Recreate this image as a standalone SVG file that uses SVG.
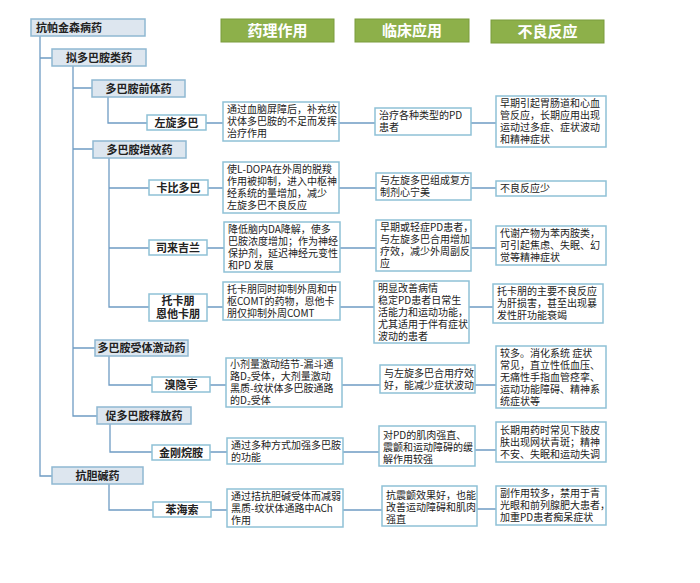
<svg xmlns="http://www.w3.org/2000/svg" width="700" height="583" viewBox="0 0 700 583">
<style>
text{font-family:"Noto Sans CJK SC","Liberation Sans",sans-serif;fill:#222}
.h rect{fill:#8db04a;stroke:#7a9c3c;stroke-width:1}
.h text{fill:#fff;font-size:15px;font-weight:bold;text-anchor:middle}
.c rect{fill:#dde6ef;stroke:#8fb8d2;stroke-width:1.5}
.c text{font-size:11px;font-weight:bold;text-anchor:middle}
.b rect{fill:#fff;stroke:#8fc1d6;stroke-width:1.5}
.b text{font-size:10px}
.l rect{fill:#fff;stroke:#8fc1d6;stroke-width:1.5}
.l text{font-size:11px;font-weight:bold;text-anchor:middle}
#connectors path{fill:none;stroke:#6f9cc4;stroke-width:1.3}
</style>
<rect width="700" height="583" fill="#fff"/>
<g id="connectors">
<path d="M40 36V476H52M40 58H52"/>
<path d="M73 66V416H97M73 88H92M73 149H93M73 348H95"/>
<path d="M108 97V123H147"/>
<path d="M109 158V307H149M109 188H149M109 248H149"/>
<path d="M109 356V385H152"/>
<path d="M110 424V452H152"/>
<path d="M109 484V510H153"/>
<path d="M206 123H223M339 123H375M471 123H496"/>
<path d="M208 188H223M339 188H376M471 188H496"/>
<path d="M207 248H224M340 248H376M471 248H496"/>
<path d="M207 307H223M340 307H374M469 307H493"/>
<path d="M210 385H226M342 385H380M475 385H496"/>
<path d="M210 452H227M343 452H379M475 450H496"/>
<path d="M211 510H227M343 510H382M477 509H496"/>
</g>
<g id="h1" class="h"><rect x="221" y="19" width="113" height="23"/><text x="277.5" y="36">药理作用</text></g>
<g id="h2" class="h"><rect x="355" y="19" width="114" height="23"/><text x="412" y="36">临床应用</text></g>
<g id="h3" class="h"><rect x="491" y="20" width="113" height="23"/><text x="547.5" y="37">不良反应</text></g>
<g id="root" class="c"><rect x="31" y="19" width="114" height="17"/><text x="36" y="31.5" style="text-anchor:start">抗帕金森病药</text></g>
<g id="n1" class="c"><rect x="52" y="49" width="94" height="17"/><text x="99" y="61.5">拟多巴胺类药</text></g>
<g id="n2" class="c"><rect x="52" y="467" width="91" height="17"/><text x="97.5" y="479.5">抗胆碱药</text></g>
<g id="n11" class="c"><rect x="92" y="80" width="93" height="17"/><text x="138.5" y="92.5">多巴胺前体药</text></g>
<g id="n12" class="c"><rect x="93" y="141" width="93" height="17"/><text x="139.5" y="153.5">多巴胺增效药</text></g>
<g id="n13" class="c"><rect x="95" y="340" width="93" height="16"/><text x="141.5" y="352">多巴胺受体激动药</text></g>
<g id="n14" class="c"><rect x="97" y="407" width="94" height="17"/><text x="144" y="419.5">促多巴胺释放药</text></g>
<g id="d1" class="l"><rect x="147" y="115" width="59" height="15"/><text x="176.5" y="126.5">左旋多巴</text></g>
<g id="d2" class="l"><rect x="149" y="180" width="59" height="15"/><text x="178.5" y="191.5">卡比多巴</text></g>
<g id="d3" class="l"><rect x="149" y="240" width="58" height="15"/><text x="178" y="251.5">司来吉兰</text></g>
<g id="d4" class="l"><rect x="149" y="294" width="58" height="27"/><text x="178" y="305">托卡朋</text><text x="178" y="317.5">恩他卡朋</text></g>
<g id="d5" class="l"><rect x="152" y="377" width="58" height="15"/><text x="181" y="388.5">溴隐亭</text></g>
<g id="d6" class="l"><rect x="152" y="445" width="58" height="15"/><text x="181" y="456.5">金刚烷胺</text></g>
<g id="d7" class="l"><rect x="153" y="502" width="58" height="15"/><text x="182" y="513.5">苯海索</text></g>
<g id="p1" class="b"><rect x="223" y="102" width="116" height="39"/><text x="227" y="113"><tspan x="227">通过血脑屏障后，补充纹</tspan><tspan x="227" dy="12">状体多巴胺的不足而发挥</tspan><tspan x="227" dy="12">治疗作用</tspan></text></g>
<g id="p2" class="b"><rect x="223" y="162" width="116" height="51"/><text x="227" y="173"><tspan x="227">使L-DOPA在外周的脱羧</tspan><tspan x="227" dy="12">作用被抑制，进入中枢神</tspan><tspan x="227" dy="12">经系统的量增加，减少</tspan><tspan x="227" dy="12">左旋多巴不良反应</tspan></text></g>
<g id="p3" class="b"><rect x="224" y="222" width="116" height="50"/><text x="228" y="232.5"><tspan x="228">降低脑内DA降解，使多</tspan><tspan x="228" dy="12">巴胺浓度增加；作为神经</tspan><tspan x="228" dy="12">保护剂，延迟神经元变性</tspan><tspan x="228" dy="12">和PD 发展</tspan></text></g>
<g id="p4" class="b"><rect x="223" y="282" width="117" height="38"/><text x="227" y="292.5"><tspan x="227">托卡朋同时抑制外周和中</tspan><tspan x="227" dy="12">枢COMT的药物，恩他卡</tspan><tspan x="227" dy="12">朋仅抑制外周COMT</tspan></text></g>
<g id="p5" class="b"><rect x="226" y="358" width="116" height="49"/><text x="230" y="368"><tspan x="230">小剂量激动结节-漏斗通</tspan><tspan x="230" dy="12">路D₂受体，大剂量激动</tspan><tspan x="230" dy="12">黑质-纹状体多巴胺通路</tspan><tspan x="230" dy="12">的D₂受体</tspan></text></g>
<g id="p6" class="b"><rect x="227" y="438" width="116" height="26"/><text x="231" y="448.5"><tspan x="231">通过多种方式加强多巴胺</tspan><tspan x="231" dy="12">的功能</tspan></text></g>
<g id="p7" class="b"><rect x="227" y="489" width="116" height="38"/><text x="231" y="499.5"><tspan x="231">通过拮抗胆碱受体而减弱</tspan><tspan x="231" dy="12">黑质-纹状体通路中ACh</tspan><tspan x="231" dy="12">作用</tspan></text></g>
<g id="c1" class="b"><rect x="375" y="108" width="96" height="27"/><text x="379" y="119"><tspan x="379">治疗各种类型的PD</tspan><tspan x="379" dy="12">患者</tspan></text></g>
<g id="c2" class="b"><rect x="376" y="173" width="95" height="27"/><text x="380" y="184"><tspan x="380">与左旋多巴组成复方</tspan><tspan x="380" dy="12">制剂心宁美</tspan></text></g>
<g id="c3" class="b"><rect x="376" y="220" width="95" height="51"/><text x="380" y="231"><tspan x="380">早期或轻症PD患者，</tspan><tspan x="380" dy="12">与左旋多巴合用增加</tspan><tspan x="380" dy="12">疗效，减少外周副反</tspan><tspan x="380" dy="12">应</tspan></text></g>
<g id="c4" class="b"><rect x="374" y="281" width="95" height="62"/><text x="378" y="291.5"><tspan x="378">明显改善病情</tspan><tspan x="378" dy="12">稳定PD患者日常生</tspan><tspan x="378" dy="12">活能力和运动功能，</tspan><tspan x="378" dy="12">尤其适用于伴有症状</tspan><tspan x="378" dy="12">波动的患者</tspan></text></g>
<g id="c5" class="b"><rect x="380" y="365" width="95" height="28"/><text x="384" y="376.5"><tspan x="384">与左旋多巴合用疗效</tspan><tspan x="384" dy="12">好，能减少症状波动</tspan></text></g>
<g id="c6" class="b"><rect x="379" y="426" width="96" height="40"/><text x="383" y="438.5"><tspan x="383">对PD的肌肉强直、</tspan><tspan x="383" dy="12">震颤和运动障碍的缓</tspan><tspan x="383" dy="12">解作用较强</tspan></text></g>
<g id="c7" class="b"><rect x="382" y="486" width="95" height="40"/><text x="386" y="498.5"><tspan x="386">抗震颤效果好，也能</tspan><tspan x="386" dy="12">改善运动障碍和肌肉</tspan><tspan x="386" dy="12">强直</tspan></text></g>
<g id="a1" class="b"><rect x="496" y="96" width="110" height="51"/><text x="500" y="107"><tspan x="500">早期引起胃肠道和心血</tspan><tspan x="500" dy="12">管反应，长期应用出现</tspan><tspan x="500" dy="12">运动过多症、症状波动</tspan><tspan x="500" dy="12">和精神症状</tspan></text></g>
<g id="a2" class="b"><rect x="496" y="181" width="110" height="15"/><text x="500" y="192">不良反应少</text></g>
<g id="a3" class="b"><rect x="496" y="226" width="110" height="39"/><text x="500" y="237"><tspan x="500">代谢产物为苯丙胺类，</tspan><tspan x="500" dy="12">可引起焦虑、失眠、幻</tspan><tspan x="500" dy="12">觉等精神症状</tspan></text></g>
<g id="a4" class="b"><rect x="493" y="284" width="110" height="39"/><text x="497" y="295"><tspan x="497">托卡朋的主要不良反应</tspan><tspan x="497" dy="12">为肝损害，甚至出现暴</tspan><tspan x="497" dy="12">发性肝功能衰竭</tspan></text></g>
<g id="a5" class="b"><rect x="496" y="346" width="110" height="62"/><text x="500" y="357"><tspan x="500">较多。消化系统  症状</tspan><tspan x="500" dy="12">常见，直立性低血压、</tspan><tspan x="500" dy="12">无痛性手指血管痉挛、</tspan><tspan x="500" dy="12">运动功能障碍、精神系</tspan><tspan x="500" dy="12">统症状等</tspan></text></g>
<g id="a6" class="b"><rect x="496" y="422" width="110" height="40"/><text x="500" y="433.5"><tspan x="500">长期用药时常见下肢皮</tspan><tspan x="500" dy="12">肤出现网状青斑；精神</tspan><tspan x="500" dy="12">不安、失眠和运动失调</tspan></text></g>
<g id="a7" class="b"><rect x="496" y="486" width="110" height="39"/><text x="500" y="497"><tspan x="500">副作用较多，禁用于青</tspan><tspan x="500" dy="12">光眼和前列腺肥大患者，</tspan><tspan x="500" dy="12">加重PD患者痴呆症状</tspan></text></g>
</svg>
